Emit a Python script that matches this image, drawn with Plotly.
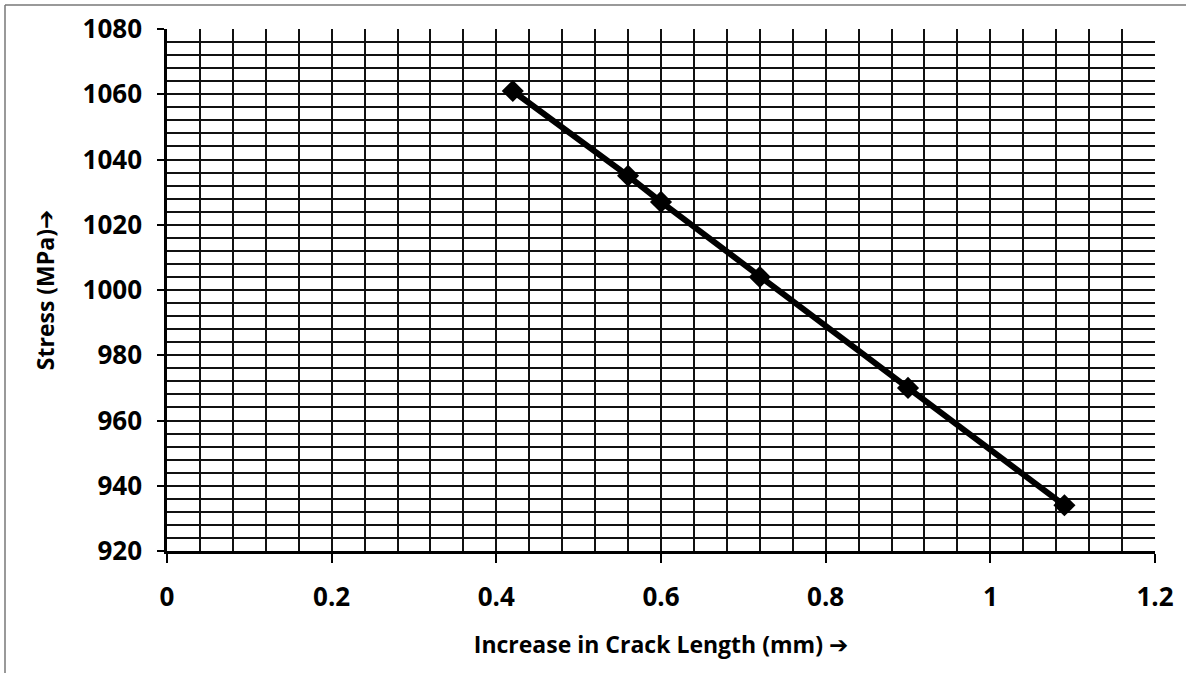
import plotly.graph_objects as go

# Data
crack_length_mm = [0.42, 0.56, 0.60, 0.72, 0.90, 1.09]
stress_mpa = [1061, 1035, 1027, 1004, 970, 934]

x_ticks = [0, 0.2, 0.4, 0.6, 0.8, 1.0, 1.2]
x_tick_labels = ["0", "0.2", "0.4", "0.6", "0.8", "1", "1.2"]
y_ticks = [920, 940, 960, 980, 1000, 1020, 1040, 1060, 1080]

W, H = 1186, 673
L, T = 167, 29
R = W - 1155
B = H - 551
pw, ph = W - L - R, H - T - B


def px_x(p):
    return (p - L) / pw


def px_y(p):
    return (H - B - p) / ph


FONT = "Open Sans"
ARROW = '<span style="font-family:DejaVu Sans">➔</span>'

fig = go.Figure()
fig.add_trace(go.Scatter(
    x=crack_length_mm, y=stress_mpa, mode="lines+markers",
    line=dict(color="black", width=6),
    marker=dict(symbol="diamond", size=17, color="black"),
    showlegend=False,
))

grid_col = "#111111"
fig.update_layout(
    width=W, height=H,
    margin=dict(l=L, r=R, t=T, b=B, autoexpand=False),
    paper_bgcolor="white", plot_bgcolor="white",
    font=dict(family=FONT, color="black"),
    xaxis=dict(
        range=[0, 1.2], tickvals=x_ticks, ticktext=x_tick_labels,
        showgrid=True, gridcolor=grid_col, gridwidth=2.2,
        minor=dict(dtick=0.04, tick0=0, showgrid=True, gridcolor=grid_col, gridwidth=2),
        ticks="outside", ticklen=9, tickwidth=2, tickcolor="black",
        showline=True, linecolor="black", linewidth=2.5,
        tickfont=dict(family=FONT, size=26, weight="bold", color="black"),
        ticklabelstandoff=12,
        zeroline=False,
        title=dict(text="Increase in Crack Length (mm) " + ARROW,
                   font=dict(family=FONT, size=23, weight="bold", color="black"),
                   standoff=24),
    ),
    yaxis=dict(
        range=[920, 1080], tickvals=y_ticks,
        showgrid=True, gridcolor=grid_col, gridwidth=2.2,
        minor=dict(dtick=4, tick0=920, showgrid=True, gridcolor=grid_col, gridwidth=2),
        ticks="outside", ticklen=7, tickwidth=2, tickcolor="black",
        showline=True, linecolor="black", linewidth=2.5,
        tickfont=dict(family=FONT, size=26, weight="bold", color="black"),
        ticklabelstandoff=10,
        zeroline=False,
        title=dict(text="Stress (MPa)" + ARROW,
                   font=dict(family=FONT, size=23, weight="bold", color="black"),
                   standoff=22),
    ),
    shapes=[
        dict(type="line", xref="paper", yref="paper",
             x0=px_x(5), x1=px_x(1200), y0=px_y(5), y1=px_y(5),
             line=dict(color="#777777", width=1.5)),
        dict(type="line", xref="paper", yref="paper",
             x0=px_x(5), x1=px_x(5), y0=px_y(5), y1=px_y(700),
             line=dict(color="#777777", width=1.5)),
    ],
)

fig.write_html(
    "out.html",
    config={"displayModeBar": False},
    post_script="document.body.style.margin='0';document.body.style.overflow='hidden';",
)
